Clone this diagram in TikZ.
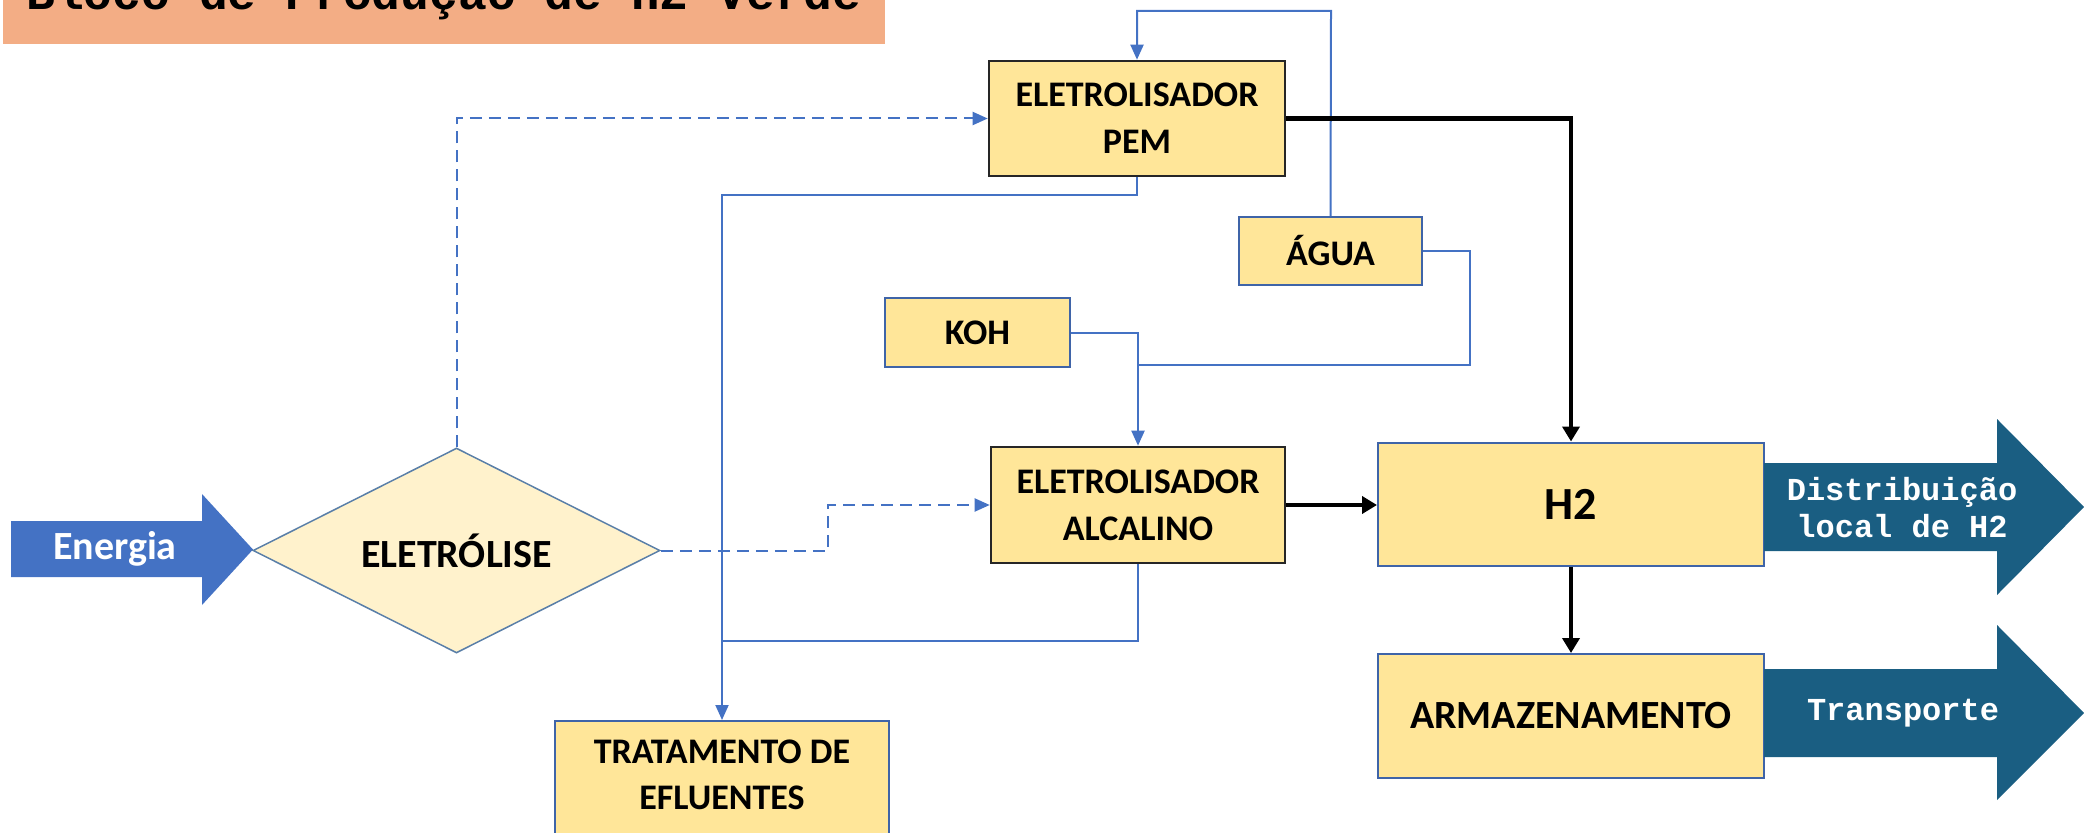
\documentclass[tikz,border=0pt]{standalone}
\usepackage{fontspec}
\setmainfont{Carlito}
\newfontfamily\monofont{Liberation Mono}
\usetikzlibrary{shapes.geometric,arrows.meta,calc}

\definecolor{boxfill}{HTML}{FFE699}
\definecolor{diafill}{HTML}{FFF2CC}
\definecolor{linkblue}{HTML}{4472C4}
\definecolor{edgeblue}{HTML}{3F64A8}
\definecolor{titlefill}{HTML}{F3AD85}
\definecolor{outteal}{HTML}{1A5E82}
\definecolor{diaedge}{HTML}{5A7FA8}

\tikzset{
  stage/.style={draw=edgeblue, fill=boxfill, line width=2pt, inner sep=0pt,
    align=center, font=\bfseries\fontsize{36}{47}\selectfont},
  mainstage/.style={stage, draw=black!85, line width=2.6pt},
  flow/.style={draw=linkblue, line width=2pt},
  flowarrow/.style={flow, -{Triangle[length=15pt,width=13pt]}},
  dashflow/.style={flowarrow, dash pattern=on 12pt off 7pt},
  product/.style={draw=black, line width=4.5pt, -{Triangle[length=15pt,width=17pt]}},
  outlabel/.style={text=white, align=center, font=\monofont\bfseries\fontsize{32}{37}\selectfont}
}

\begin{document}
\begin{tikzpicture}[x=1pt,y=-1pt]
\useasboundingbox (0,0) rectangle (2084,832);
\clip (0,0) rectangle (2084,832);

% title banner
\fill[titlefill] (3,0) rectangle (885,44);
\node[anchor=base west, inner sep=0pt, font=\monofont\bfseries\fontsize{48}{48}\selectfont]
  (title) at (26,10) {Bloco de Produção de H2 Verde};

% energy input arrow
\fill[linkblue] (11,521) -- (202,521) -- (202,494) -- (253,549.5) -- (202,605)
  -- (202,577) -- (11,577) -- cycle;
\node[text=white, font=\bfseries\fontsize{40}{40}\selectfont] (energia) at (115,549) {Energia};

% decision
\node[diamond, aspect=2, draw=diaedge, fill=diafill, line width=1.5pt, inner sep=0pt,
  minimum width=407pt, minimum height=205pt, font=\bfseries\fontsize{40}{40}\selectfont]
  (elet) at (456.5,550.5) {ELETRÓLISE};

% process blocks
\node[mainstage, minimum width=296pt, minimum height=115pt] (pem) at (1137,118.5)
  {ELETROLISADOR\\PEM};
\node[mainstage, minimum width=294pt, minimum height=116pt] (alc) at (1138,505)
  {ELETROLISADOR\\ALCALINO};
\node[stage, minimum width=183pt, minimum height=68pt] (agua) at (1330.5,251) {ÁGUA};
\node[stage, minimum width=185pt, minimum height=69pt] (koh) at (977.5,332.5) {KOH};
\node[stage, minimum width=386pt, minimum height=123pt,
  font=\bfseries\fontsize{46}{46}\selectfont] (h2) at (1571,504) {H2};
\node[stage, minimum width=386pt, minimum height=124pt,
  font=\bfseries\fontsize{40}{40}\selectfont] (arm) at (1571,716) {ARMAZENAMENTO};
\node[stage, minimum width=334pt, minimum height=130pt] (trat) at (722,786) {};
\node[align=center, font=\bfseries\fontsize{36}{46}\selectfont] (tratlabel) at (722,775)
  {TRATAMENTO DE\\EFLUENTES};

% output arrows
\fill[outteal] (1764,463) -- (1997,463) -- (1997,419) -- (2084,507) -- (1997,595)
  -- (1997,551) -- (1764,551) -- cycle;
\node[outlabel] (dist) at (1902,508) {Distribuição\\local de H2};
\fill[outteal] (1764,669) -- (1997,669) -- (1997,625) -- (2084,713) -- (1997,800)
  -- (1997,757) -- (1764,757) -- cycle;
\node[outlabel] (transp) at (1903,713) {Transporte};

% junction points of the water and effluent lines
\coordinate (wtop) at (1331,11);
\coordinate (wside) at (1470,365);
\coordinate (wjoin) at (1138,365);
\coordinate (efl1) at (722,195);
\coordinate (efl2) at (722,641);
\coordinate (dstep) at (828,550.5);

% energy distribution (dashed)
\draw[dashflow] (elet.north) |- (pem.west);
\draw[dashflow] (elet.east) -- (dstep) |- (alc.west);

% water and electrolyte feeds
\draw[flowarrow] (agua.north) -- (wtop) -| (pem.north);
\draw[flow] (agua.east) -| (wside) -- (wjoin);
\draw[flowarrow] (koh.east) -| (alc.north);

% effluents
\draw[flowarrow] (pem.south) |- (efl1) -- (trat.north);
\draw[flow] (alc.south) |- (efl2);

% hydrogen
\draw[product] (pem.east) -| (h2.north);
\draw[product] (alc.east) -- (alc.east -| h2.west);
\draw[product] (h2.south) -- (arm.north);
\end{tikzpicture}
\end{document}
